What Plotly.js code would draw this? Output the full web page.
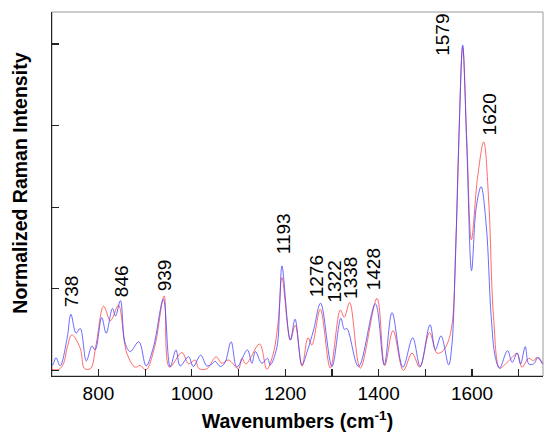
<!DOCTYPE html>
<html>
<head>
<meta charset="utf-8">
<script src="https://cdn.plot.ly/plotly-3.0.1.min.js"></script>
<style>html,body{margin:0;padding:0;background:#fff;}#chart{width:550px;height:439px;}</style>
</head>
<body>
<div id="chart"></div>
<script>
// Blue spectrum (wavenumber, normalized intensity)
var blueX = [700,702,709,718,733,741,752,761,774,786,793,807,816.5,830,836.5,847,857,868,886.5,902,918,939,953.6,966,975,993,1003,1019,1032,1043,1050,1061,1071,1084,1096.5,1119,1128.6,1136,1150,1162,1168,1182,1188,1193,1210.8,1221,1235.8,1248,1260.7,1275.7,1300,1319,1326.5,1332,1357,1393,1412,1428.7,1452,1473,1489,1510,1521.5,1533.6,1550,1557,1564,1572,1580,1589,1599,1609,1619.4,1630.7,1641,1650,1659,1676,1686,1696.6,1704,1714,1721.4,1732,1741.5,1751];
var blueY = [0.02,0.017,0.039,0.014,0.10,0.172,0.114,0.129,0.029,0.075,0.063,0.162,0.114,0.19,0.167,0.214,0.084,0.058,0.088,0.014,0.073,0.218,0.011,0.063,0.014,0.042,0.012,0.047,0.014,0.02,0.028,0.012,0.024,0.088,0.01,0.063,0.022,0.058,0.022,0.037,0.017,0.07,0.2,0.32,0.093,0.157,0.017,0.063,0.124,0.206,0.012,0.16,0.126,0.129,0.012,0.204,0.017,0.177,0.01,0.1,0.012,0.14,0.063,0.106,0.017,0.08,0.318,0.72,0.997,0.675,0.306,0.5,0.563,0.44,0.165,0.04,0.007,0.061,0.025,0.053,0.02,0.073,0.02,0.02,0.04,0.02];

// Red spectrum
var redX = [700,715,725,733,743,761,770,783,795,811,825,830,843,860.7,878.6,889,902,920,940.7,952,978.6,993,1007,1015,1032,1052,1064,1078.6,1100,1107,1116,1145,1160.7,1174,1185,1193,1211,1221.5,1236,1248.7,1257,1275,1296.5,1317.9,1326.5,1337.9,1360.7,1396.5,1413,1430.8,1453,1471.5,1488,1509,1525,1536,1546.5,1557,1566,1580,1589,1598.6,1612,1625,1635.7,1646,1659,1668,1686,1696.6,1707,1721,1732,1739,1751];
var redY = [0.003,0.003,0.02,0.07,0.109,0.068,0.006,0.006,0.08,0.197,0.152,0.16,0.2,0.053,0.01,0.015,0.002,0.07,0.228,0.01,0.055,0.02,0.032,0.006,0.005,0.042,0.022,0.032,0.005,0.037,0.02,0.081,0.004,0.05,0.15,0.285,0.093,0.139,0.013,0.1,0.078,0.187,0.007,0.185,0.163,0.208,0.007,0.221,0.015,0.122,0.0,0.053,0.01,0.116,0.053,0.058,0.08,0.139,0.42,0.99,0.7,0.4,0.593,0.70,0.522,0.165,0.007,0.015,0.04,0.053,0.01,0.037,0.03,0.04,0.02];

// Peak labels
var peakLabels = ['738','846','939','1193','1276','1322','1338','1428','1579','1620'];
var labelX = [743,848,941.4,1197,1265.8,1305,1340.8,1389,1538,1637.8];
var labelY = [0.19,0.221,0.241,0.354,0.221,0.206,0.216,0.241,0.961,0.716];

var font = 'Arial, "Liberation Sans", sans-serif';

var traces = [
  {x: redX, y: redY, type: 'scatter', mode: 'lines',
   line: {color: 'rgb(255,70,70)', width: 1, shape: 'spline', smoothing: 1}, opacity: 0.8, hoverinfo: 'skip'},
  {x: blueX, y: blueY, type: 'scatter', mode: 'lines',
   line: {color: 'rgb(70,70,255)', width: 1, shape: 'spline', smoothing: 1}, opacity: 0.8, hoverinfo: 'skip'}
];

var annotations = peakLabels.map(function (t, i) {
  return {x: labelX[i], y: labelY[i], xref: 'x', yref: 'y', text: t, showarrow: false,
    textangle: -90, xanchor: 'center', yanchor: 'bottom', borderpad: 0,
    font: {family: font, size: 19, color: '#000'}};
});
annotations.push({x: -0.066, y: 0.53, xref: 'paper', yref: 'paper', text: '<b>Normalized Raman Intensity</b>',
  showarrow: false, textangle: -90, xanchor: 'center', yanchor: 'middle',
  font: {family: font, size: 19.5, color: '#000'}});

var layout = {
  width: 550, height: 439,
  margin: {l: 52, r: 7, t: 12, b: 63},
  paper_bgcolor: '#fff', plot_bgcolor: '#fff',
  showlegend: false,
  font: {family: font, size: 19, color: '#000'},
  xaxis: {
    range: [700.5, 1752], tickmode: 'linear', tick0: 0, dtick: 200,
    ticks: 'inside', ticklen: 7, tickwidth: 1.2, tickcolor: '#222',
    minor: {dtick: 100, ticks: 'inside', ticklen: 7, tickwidth: 1.2, tickcolor: '#222'},
    showgrid: false, zeroline: false, showline: true, linecolor: '#222', linewidth: 1.3,
    tickfont: {family: font, size: 19, color: '#000'},
    title: {text: '<b>Wavenumbers (cm<sup>-1</sup>)</b>', font: {family: font, size: 19.5, color: '#000'}, standoff: 11}
  },
  yaxis: {
    range: [-0.017, 1.098], tickmode: 'linear', tick0: 0, dtick: 0.25,
    ticks: 'inside', ticklen: 7, tickwidth: 1.2, tickcolor: '#222',
    showticklabels: false, showgrid: false, zeroline: false,
    showline: true, linecolor: '#222', linewidth: 1.3
  },
  shapes: [{type: 'rect', xref: 'paper', yref: 'paper', x0: 0, x1: 1, y0: 0, y1: 1,
    line: {color: '#999', width: 1}, layer: 'below'}],
  annotations: annotations
};

Plotly.newPlot('chart', traces, layout, {displayModeBar: false, staticPlot: true});
</script>
</body>
</html>
